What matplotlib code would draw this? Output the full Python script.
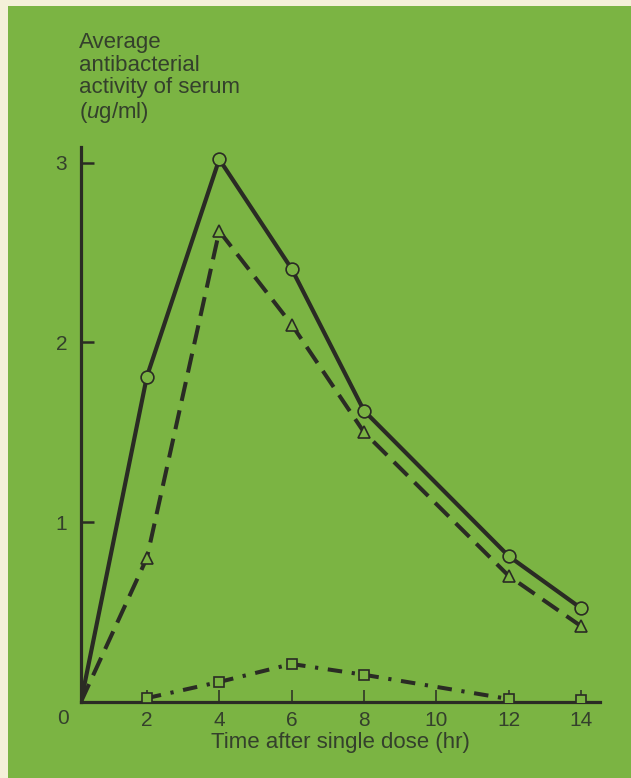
import matplotlib.pyplot as plt
from matplotlib.patches import Rectangle

# values
hours = [2, 4, 6, 8, 12, 14]
circle_vals = [1.81, 3.02, 2.41, 1.62, 0.81, 0.52]
triangle_vals = [0.80, 2.62, 2.10, 1.50, 0.70, 0.42]
square_hours = [2, 4, 6, 8, 12, 14]
square_vals = [0.02, 0.11, 0.21, 0.15, 0.015, 0.01]
line_start = 0.18   # curves leave the axis corner

x_ticks = [2, 4, 6, 8, 10, 12, 14]
y_ticks = [1, 2, 3]

green = '#7bb443'
cream = '#f4f0d8'
ink = '#2a2b24'
txt = '#34402c'

plt.rcParams['font.family'] = ['Liberation Sans', 'DejaVu Sans']
plt.rcParams['mathtext.fontset'] = 'custom'
plt.rcParams['mathtext.it'] = 'Liberation Sans:italic'
plt.rcParams['mathtext.rm'] = 'Liberation Sans'

fig = plt.figure(figsize=(6.31, 7.78), dpi=100, facecolor=cream)
fig.patches.append(Rectangle((8 / 631, 0), 1, 1 - 6 / 778, transform=fig.transFigure,
                             facecolor=green, edgecolor='none', zorder=-5))

ax = fig.add_axes([81 / 631, 76.3 / 778, 519 / 631, 555 / 778])
ax.set_facecolor('none')

# solid line with open circles
ax.plot([line_start] + hours, [0] + circle_vals, '-', color=ink, lw=3.0,
        solid_capstyle='butt', zorder=2)
ax.plot(hours, circle_vals, 'o', ms=9.2, mfc=green, mec=ink, mew=1.2, zorder=3)

# dashed line with open triangles
ax.plot([line_start] + hours, [0] + triangle_vals, '--', color=ink, lw=2.9,
        dashes=(4.8, 2.4), zorder=2)
ax.plot(hours, triangle_vals, '^', ms=8.4, mfc=green, mec=ink, mew=1.2, zorder=3)

# dash-dot line with open squares
ax.plot(square_hours[:-1], square_vals[:-1], color=ink, lw=2.9,
        dashes=(3.6, 2.4, 0.8, 2.4), zorder=2)
ax.plot(square_hours, square_vals, 's', ms=7.4, mfc=green, mec=ink, mew=1.2, zorder=3)

ax.set_xlim(line_start, 14.52)
ax.set_ylim(0, 3.09)

for side in ['top', 'right']:
    ax.spines[side].set_visible(False)
for side in ['left', 'bottom']:
    ax.spines[side].set_linewidth(2.3)
    ax.spines[side].set_color(ink)

ax.set_xticks(x_ticks)
ax.set_xticklabels([str(v) for v in x_ticks])
ax.set_yticks(y_ticks)
ax.set_yticklabels([str(v) for v in y_ticks])
ax.tick_params(axis='x', direction='in', length=9, width=1.1, color=ink,
               labelsize=15, labelcolor=txt, pad=7)
ax.tick_params(axis='y', direction='in', length=9, width=1.8, color=ink,
               labelsize=15, labelcolor=txt, pad=10)

ax.text(63 / 631, 60 / 778, '0', transform=fig.transFigure, ha='center', va='center',
        fontsize=15, color=txt)

ax.set_xlabel('Time after single dose (hr)', fontsize=16, color=txt, labelpad=1)

fig.text(79 / 631, 1 - 32 / 778,
         'Average\nantibacterial\nactivity of serum\n($\\mathit{u}$g/ml)',
         ha='left', va='top', fontsize=16, color=txt, linespacing=1.1)

fig.savefig('out.png', dpi=100, facecolor=cream)
